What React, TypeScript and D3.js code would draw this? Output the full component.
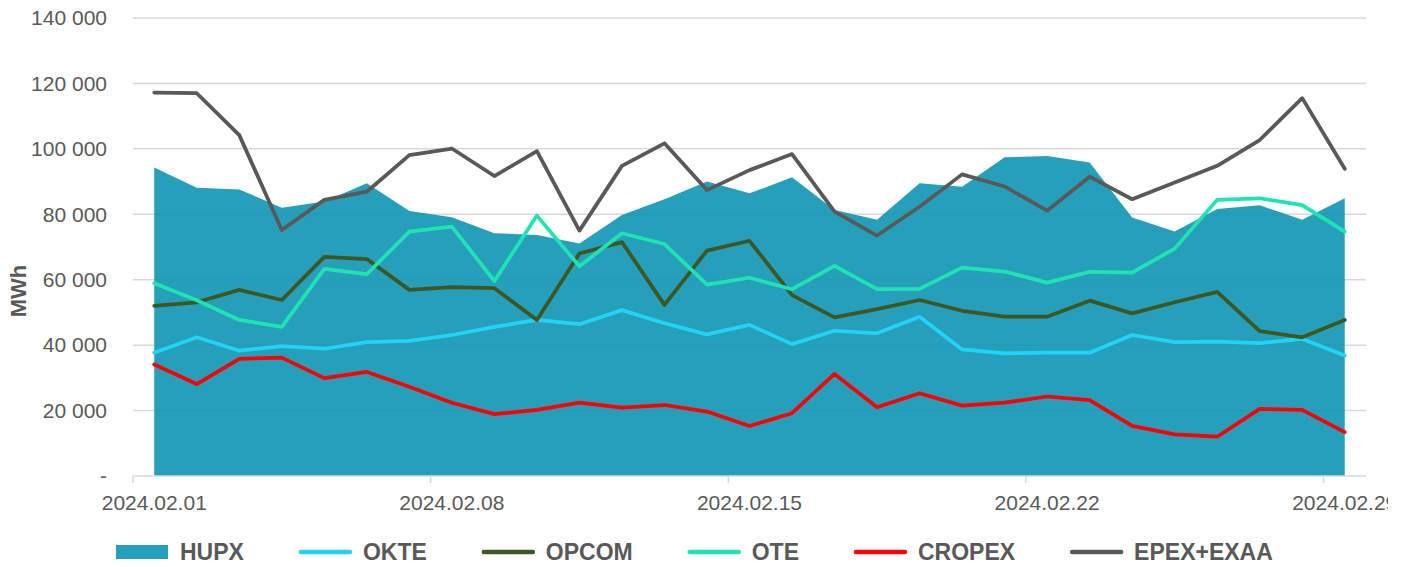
import { useEffect, useRef } from 'react';
import * as d3 from 'd3';

const days = [
  '2024.02.01', '2024.02.02', '2024.02.03', '2024.02.04', '2024.02.05', '2024.02.06', '2024.02.07',
  '2024.02.08', '2024.02.09', '2024.02.10', '2024.02.11', '2024.02.12', '2024.02.13', '2024.02.14',
  '2024.02.15', '2024.02.16', '2024.02.17', '2024.02.18', '2024.02.19', '2024.02.20', '2024.02.21',
  '2024.02.22', '2024.02.23', '2024.02.24', '2024.02.25', '2024.02.26', '2024.02.27', '2024.02.28',
  '2024.02.29'
];

const hupx = [
  94300, 88100, 87600, 82000, 83900, 89500, 81000, 79100, 74200, 73700, 71100, 79800, 84600, 90000,
  86400, 91300, 81300, 78300, 89500, 88400, 97400, 97800, 95800, 79000, 74700, 81600, 82800, 78300,
  84900
];
const okte = [
  37700, 42400, 38300, 39700, 38900, 40900, 41300, 43100, 45600, 47700, 46400, 50700, 46700, 43300,
  46200, 40300, 44400, 43600, 48700, 38700, 37500, 37700, 37700, 43100, 40900, 41100, 40600, 41900,
  36800
];
const opcom = [
  52000, 53100, 56900, 53800, 67000, 66300, 56900, 57700, 57400, 47700, 68000, 71500, 52300, 68900,
  71900, 55300, 48500, 51000, 53800, 50500, 48700, 48700, 53600, 49700, 53100, 56300, 44300, 42400,
  47700
];
const ote = [
  58900, 53700, 47700, 45600, 63300, 61700, 74700, 76200, 59600, 79600, 64100, 74200, 70900, 58500,
  60600, 57100, 64200, 57100, 57200, 63700, 62500, 59100, 62400, 62200, 69500, 84400, 84900, 82800,
  74700
];
const cropex = [
  34100, 28100, 35800, 36200, 29900, 31800, 27300, 22400, 18900, 20200, 22400, 20900, 21700, 19700,
  15300, 19200, 31200, 21000, 25300, 21500, 22400, 24300, 23200, 15300, 12700, 12000, 20500, 20200,
  13400
];
const epex = [
  117200, 117000, 104200, 75200, 84400, 86900, 98100, 100100, 91700, 99300, 75000, 94800, 101700,
  87400, 93500, 98400, 80800, 73500, 82300, 92200, 88500, 81100, 91500, 84600, 89700, 94800, 102700,
  115500, 93900
];

const yTicks = [0, 20000, 40000, 60000, 80000, 100000, 120000, 140000];

const lineSeries = [
  { name: 'OKTE', values: okte, color: '#22d3f8' },
  { name: 'OPCOM', values: opcom, color: '#3d5723' },
  { name: 'OTE', values: ote, color: '#20e3b4' },
  { name: 'CROPEX', values: cropex, color: '#ff0000' },
  { name: 'EPEX+EXAA', values: epex, color: '#595959' }
];

const WIDTH = 1408;
const HEIGHT = 567;
const FONT = '"Liberation Sans", Arial, Helvetica, sans-serif';
const TEXT = '#595959';
const GRID = '#d9d9d9';
const AREA = '#0e95b2';

const locale = d3.formatLocale({ decimal: ',', thousands: ' ', grouping: [3], currency: ['', ''] });
const fmt = locale.format(',');

export default function App() {
  const ref = useRef<SVGSVGElement | null>(null);

  useEffect(() => {
    const svgEl = ref.current;
    if (!svgEl) return;
    const svg = d3.select(svgEl);
    svg.selectAll('*').remove();

    const left = 133;
    const right = 1366;
    const top = 18;
    const bottom = 476;

    const x = d3.scaleBand<string>().domain(days).range([left, right]).padding(0);
    const cx = (i: number) => (x(days[i]) ?? 0) + x.bandwidth() / 2;
    const y = d3.scaleLinear().domain([0, 140000]).range([bottom, top]);

    // grid
    svg
      .append('g')
      .selectAll('line')
      .data(yTicks.filter((t) => t > 0))
      .join('line')
      .attr('x1', left)
      .attr('x2', right)
      .attr('y1', (d) => y(d))
      .attr('y2', (d) => y(d))
      .attr('stroke', GRID)
      .attr('stroke-width', 1.5);

    // y labels
    svg
      .append('g')
      .selectAll('text')
      .data(yTicks)
      .join('text')
      .attr('x', 107)
      .attr('y', (d) => y(d))
      .attr('dy', '0.35em')
      .attr('text-anchor', 'end')
      .attr('font-family', FONT)
      .attr('font-size', 21)
      .attr('fill', TEXT)
      .text((d) => (d === 0 ? '-' : fmt(d)));

    svg
      .append('text')
      .attr('transform', 'translate(26, 291) rotate(-90)')
      .attr('text-anchor', 'middle')
      .attr('font-family', FONT)
      .attr('font-size', 22)
      .attr('font-weight', 'bold')
      .attr('fill', TEXT)
      .text('MWh');

    // area
    const area = d3
      .area<number>()
      .x((_, i) => cx(i))
      .y0(y(0))
      .y1((d) => y(d));
    svg.append('path').datum(hupx).attr('d', area).attr('fill', AREA).attr('fill-opacity', 0.9);

    // x axis
    svg
      .append('line')
      .attr('x1', left)
      .attr('x2', right)
      .attr('y1', bottom)
      .attr('y2', bottom)
      .attr('stroke', GRID)
      .attr('stroke-width', 1.5);

    const labelIdx = days.map((_, i) => i).filter((i) => i % 7 === 0);
    svg
      .append('g')
      .selectAll('line')
      .data(labelIdx)
      .join('line')
      .attr('x1', (i) => x(days[i]) ?? 0)
      .attr('x2', (i) => x(days[i]) ?? 0)
      .attr('y1', bottom)
      .attr('y2', bottom + 7)
      .attr('stroke', GRID)
      .attr('stroke-width', 1.5);

    svg
      .append('clipPath')
      .attr('id', 'xclip')
      .append('rect')
      .attr('x', 0)
      .attr('y', 0)
      .attr('width', 1388)
      .attr('height', HEIGHT);

    svg
      .append('g')
      .attr('clip-path', 'url(#xclip)')
      .selectAll('text')
      .data(labelIdx)
      .join('text')
      .attr('x', (i) => cx(i))
      .attr('y', 510)
      .attr('text-anchor', 'middle')
      .attr('font-family', FONT)
      .attr('font-size', 21)
      .attr('fill', TEXT)
      .text((i) => days[i]);

    // lines
    const line = d3
      .line<number>()
      .x((_, i) => cx(i))
      .y((d) => y(d));
    svg
      .append('g')
      .selectAll('path')
      .data(lineSeries)
      .join('path')
      .attr('d', (s) => line(s.values))
      .attr('fill', 'none')
      .attr('stroke', (s) => s.color)
      .attr('stroke-width', 3.75)
      .attr('stroke-linejoin', 'round')
      .attr('stroke-linecap', 'round');

    // legend
    const legend = svg.append('g').attr('font-family', FONT);
    const items = [{ name: 'HUPX', color: AREA, isArea: true }, ...lineSeries.map((s) => ({ ...s, isArea: false }))];
    let lx = 116;
    const ly = 552;
    items.forEach((item) => {
      if (item.isArea) {
        legend
          .append('rect')
          .attr('x', lx)
          .attr('y', ly - 7)
          .attr('width', 52)
          .attr('height', 14)
          .attr('fill', item.color)
          .attr('fill-opacity', 0.9);
      } else {
        legend
          .append('line')
          .attr('x1', lx + 2)
          .attr('x2', lx + 51)
          .attr('y1', ly)
          .attr('y2', ly)
          .attr('stroke', item.color)
          .attr('stroke-width', 4.5)
          .attr('stroke-linecap', 'round');
      }
      const t = legend
        .append('text')
        .attr('x', lx + 64)
        .attr('y', ly + 8)
        .attr('font-size', 23)
        .attr('font-weight', 'bold')
        .attr('fill', TEXT)
        .text(item.name);
      const w = (t.node() as SVGTextElement).getComputedTextLength();
      lx += 64 + w + 55;
    });
  }, []);

  return (
    <svg
      ref={ref}
      width={WIDTH}
      height={HEIGHT}
      viewBox={`0 0 ${WIDTH} ${HEIGHT}`}
      style={{ position: 'absolute', left: 0, top: 0, background: '#fff' }}
    />
  );
}
